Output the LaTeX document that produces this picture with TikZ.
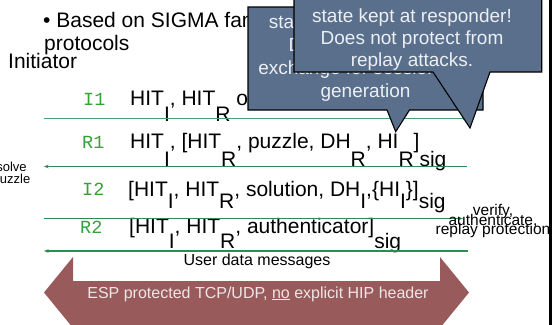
\documentclass[tikz,border=0pt]{standalone}
\usepackage{fontspec}
\setmainfont{Liberation Sans}
\newfontfamily\monofont{Liberation Mono}
\usetikzlibrary{arrows.meta}
\definecolor{msggreen}{RGB}{45,140,80}
\definecolor{msggreenlight}{RGB}{70,160,110}
\definecolor{lblgreen}{RGB}{55,160,55}
\definecolor{callout}{RGB}{89,111,140}
\definecolor{calltext}{RGB}{236,239,243}
\definecolor{arrowred}{RGB}{153,90,92}
\definecolor{arrowtext}{RGB}{236,230,230}
\newlength\subdrop
\newcommand\lowsub[1]{\raisebox{-\subdrop}{#1}}
\begin{document}
\begin{tikzpicture}[x=1bp,y=-1bp,
  big/.style={inner sep=0pt,anchor=base west,font=\fontsize{21bp}{25bp}\selectfont},
  lbl/.style={inner sep=0pt,anchor=base west,text=lblgreen,font=\monofont\fontsize{18.5bp}{22bp}\selectfont},
  side/.style={inner sep=0pt,anchor=base,font=\fontsize{13bp}{15bp}\selectfont},
  sidebig/.style={inner sep=0pt,anchor=base,font=\fontsize{15.5bp}{17bp}\selectfont},
  msg/.style={draw=msggreen,line width=1.5bp},
  msgarrow/.style={-{Stealth[length=4.5bp,width=3.5bp]}},
  callbox/.style={fill=callout,draw=black,line width=1.1bp,line join=miter},
  calltxt/.style={inner sep=0pt,anchor=base,text=calltext,font=\fontsize{19bp}{22bp}\selectfont},
  small/.style={inner sep=0pt,anchor=base,font=\fontsize{16bp}{19bp}\selectfont},
  bigarrow/.style={fill=arrowred,draw=none}]
\useasboundingbox (0,0) rectangle (552,324);
\clip (0,0) rectangle (552,324);

% heading texts
\node[big] (bullet) at (43,27) {• Based on SIGMA family};
\node[big] (proto) at (44,50.5) {protocols};
\node[big] (init) at (8,68) {Initiator};

% message rows
\node[lbl] (lI1) at (83,105) {I1};
\node[big] (tI1) at (130,105) {\setlength\subdrop{16.7bp}HIT\lowsub{I}, HIT\lowsub{R} or};

\node[lbl] (lR1) at (82,148) {R1};
\node[big] (tR1) at (130,148) {\setlength\subdrop{18bp}HIT\lowsub{I}, [HIT\lowsub{R}, puzzle, DH\lowsub{R}, HI\lowsub{R}]\lowsub{sig}};

\node[lbl] (lI2) at (82,195) {I2};
\node[big] (tI2) at (128,196.5) {\setlength\subdrop{12bp}[HIT\lowsub{I}, HIT\lowsub{R}, solution, DH\lowsub{I},\{HI\lowsub{I}\}]\lowsub{sig}};

\node[lbl] (lR2) at (80,233.5) {R2};
\node[big] (tR2) at (129,233.5) {\setlength\subdrop{15bp}[HIT\lowsub{I}, HIT\lowsub{R}, authenticator]\lowsub{sig}};

% message lines
\coordinate (i1a) at (44,118.5);
\coordinate (i1b) at (467,118.5);
\coordinate (r1a) at (467,166.5);
\coordinate (r1b) at (44,166.5);
\coordinate (i2a) at (44,218.5);
\coordinate (i2b) at (463,218.5);
\coordinate (r2a) at (468,251);
\coordinate (r2b) at (44,251);
\draw[msg,draw=msggreenlight,msgarrow] (i1a) -- (i1b);
\draw[msg,msgarrow] (r1a) -- (r1b);
\draw[msg,msgarrow] (i2a) -- (i2b);
\draw[msg,msgarrow] (r2a) -- (r2b);

% side notes
\node[side] (solve1) at (11.5,171.5) {solve};
\node[side] (solve2) at (11.5,183.5) {puzzle};
\node[sidebig] (ver1) at (493,215.5) {verify,};
\node[sidebig] (ver2) at (493,225) {authenticate,};
\node[sidebig] (ver3) at (493,234.5) {replay protection};

% user data
\node[small] (udata) at (257,265) {User data messages};
\path[bigarrow] (44,292.5) -- (73,257) -- (73,281) -- (440,281) -- (440,257) -- (469,292.5)
  -- (440,328) -- (440,340) -- (73,340) -- (73,328) -- cycle;
\node[small,text=arrowtext] (esp) at (258,298) {ESP protected TCP/UDP, \underline{no} explicit HIP header};

% back callout
\path[callbox] (248,7) -- (483,7) -- (483,110) -- (409.5,110) -- (395.7,131.7) -- (387,110) -- (248,110) -- cycle;
\node[calltxt] (b1) at (365.5,28.5) {standard authenticated};
\node[calltxt] (b2) at (365.5,51.5) {Diffie-Hellman key};
\node[calltxt] (b3) at (365.5,74.5) {exchange for session key};
\node[calltxt] (b4) at (365.5,97.5) {generation};

% front callout
\path[callbox] (294,-10) -- (541.7,-10) -- (541.7,72) -- (490,72) -- (470,128) -- (433,72) -- (294,72) -- cycle;
\node[calltxt] (f1) at (412,22) {state kept at responder!};
\node[calltxt] (f2) at (412,44.3) {Does not protect from};
\node[calltxt] (f3) at (412,66.5) {replay attacks.};

% right edge bar
\fill[black] (549.3,-1) rectangle (553,325);
\end{tikzpicture}
\end{document}
